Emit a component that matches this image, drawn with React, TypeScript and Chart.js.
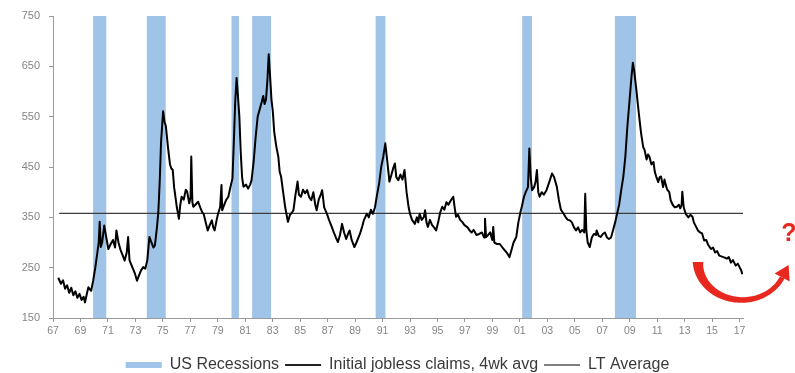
import React, { useEffect, useRef } from 'react';
import { Chart, registerables } from 'chart.js';

Chart.register(...registerables);

// ---- Data ----
const claimYears = [
  1967.38, 1967.58, 1967.73, 1967.88, 1968.03, 1968.18, 1968.33, 1968.48, 1968.63, 1968.78,
  1968.93, 1969.08, 1969.23, 1969.33, 1969.48, 1969.58, 1969.78, 1969.93, 1970.08, 1970.23,
  1970.33, 1970.40, 1970.48, 1970.58, 1970.73, 1970.88, 1971.03,
  1971.22, 1971.37, 1971.52, 1971.62, 1971.77, 1971.92, 1972.07, 1972.22, 1972.37, 1972.47,
  1972.57, 1972.67, 1972.82, 1972.97, 1973.12, 1973.27, 1973.42, 1973.57, 1973.72, 1973.87,
  1974.02, 1974.17, 1974.32, 1974.42, 1974.57, 1974.67, 1974.77, 1974.87, 1975.02, 1975.12,
  1975.22, 1975.37, 1975.52, 1975.62, 1975.72, 1975.82,
  1976.02, 1976.17, 1976.27, 1976.37, 1976.52, 1976.67, 1976.77, 1976.92, 1977.02, 1977.07,
  1977.15, 1977.22, 1977.37, 1977.57, 1977.72, 1977.87, 1977.97, 1978.12, 1978.27, 1978.42,
  1978.57, 1978.67, 1978.77, 1978.92, 1979.02, 1979.17, 1979.27, 1979.32, 1979.47, 1979.62,
  1979.77, 1979.92, 1980.07, 1980.17, 1980.27, 1980.37, 1980.47, 1980.57, 1980.67, 1980.77,
  1980.87,
  1981.06, 1981.21, 1981.36, 1981.46, 1981.61, 1981.76, 1981.91, 1982.06, 1982.21, 1982.31,
  1982.41, 1982.51, 1982.61, 1982.71, 1982.81, 1982.91, 1983.01, 1983.11, 1983.26, 1983.41,
  1983.51, 1983.61, 1983.76, 1983.91, 1984.11, 1984.26, 1984.41, 1984.51, 1984.66, 1984.81,
  1984.91, 1985.06, 1985.21, 1985.36, 1985.51, 1985.66, 1985.81, 1985.96,
  1986.10, 1986.20, 1986.35, 1986.50, 1986.60, 1986.75, 1986.95, 1987.10, 1987.30, 1987.45,
  1987.60, 1987.75, 1987.90, 1988.05, 1988.20, 1988.35, 1988.50, 1988.60, 1988.75, 1988.95,
  1989.10, 1989.25, 1989.35, 1989.50, 1989.65, 1989.85, 1990.00, 1990.15, 1990.30, 1990.45,
  1990.60, 1990.75, 1990.90, 1991.05, 1991.20,
  1991.35, 1991.50, 1991.65, 1991.80, 1991.90, 1992.00, 1992.15, 1992.30, 1992.45, 1992.60,
  1992.75, 1992.90, 1993.00, 1993.15, 1993.35, 1993.50, 1993.60, 1993.70, 1993.85, 1994.00,
  1994.10, 1994.20, 1994.30, 1994.45, 1994.60, 1994.75, 1994.90, 1995.05, 1995.20, 1995.35,
  1995.50, 1995.65, 1995.80, 1996.00, 1996.15, 1996.25, 1996.35, 1996.50, 1996.65, 1996.80,
  1996.95,
  1997.19, 1997.34, 1997.49, 1997.64, 1997.84, 1998.04, 1998.24, 1998.39, 1998.46, 1998.54,
  1998.69, 1998.84, 1998.99, 1999.06, 1999.14, 1999.34, 1999.54, 1999.74, 1999.89, 2000.04,
  2000.24, 2000.39, 2000.54, 2000.74, 2000.89, 2001.04, 2001.14, 2001.29, 2001.44, 2001.59,
  2001.69, 2001.79, 2001.89, 2002.04, 2002.14, 2002.24, 2002.34, 2002.44, 2002.59, 2002.74,
  2002.94,
  2003.14, 2003.34, 2003.49, 2003.69, 2003.84, 2003.99, 2004.19, 2004.34, 2004.49, 2004.64,
  2004.79, 2004.94, 2005.09, 2005.24, 2005.39, 2005.54, 2005.69, 2005.76, 2005.84, 2005.94,
  2006.09, 2006.24, 2006.39, 2006.54, 2006.59, 2006.74, 2006.89, 2007.04, 2007.19, 2007.34,
  2007.49, 2007.64, 2007.79, 2007.94,
  2008.08, 2008.23, 2008.38, 2008.53, 2008.68, 2008.83, 2008.98, 2009.13, 2009.23, 2009.33,
  2009.48, 2009.63, 2009.73, 2009.83, 2009.98, 2010.08, 2010.23, 2010.33, 2010.43, 2010.58,
  2010.73, 2010.83, 2010.93, 2011.08, 2011.18, 2011.28, 2011.43, 2011.53, 2011.63, 2011.73,
  2011.88, 2011.98, 2012.13, 2012.28, 2012.43, 2012.58, 2012.68, 2012.78, 2012.83, 2012.93,
  2013.08,
  2013.27, 2013.42, 2013.57, 2013.67, 2013.82, 2013.97, 2014.12, 2014.27, 2014.42, 2014.57,
  2014.72, 2014.92, 2015.07, 2015.22, 2015.37, 2015.52, 2015.72, 2015.92, 2016.07, 2016.22,
  2016.37, 2016.52, 2016.72, 2016.87, 2017.02, 2017.12, 2017.20,
];

const claimValues = [
  230, 218, 225, 208, 215, 200, 210, 195, 203, 190,
  198, 186, 192, 181, 200, 211, 204, 225, 250, 280,
  300, 341, 291, 300, 334, 310, 287,
  298, 305, 290, 324, 300, 285, 275, 264, 280, 311,
  265, 258, 248, 238, 224, 235, 245, 251, 248, 265,
  311, 300, 290, 294, 330, 360, 420, 500, 561, 540,
  531, 490, 455, 447, 444, 410,
  370, 347, 375, 391, 385, 405, 401, 378, 390, 471,
  380, 371, 375, 381, 370, 360, 357, 340, 324, 335,
  344, 330, 324, 345, 357, 370, 414, 364, 375, 385,
  391, 410, 427, 500, 580, 627, 590, 551, 480, 430,
  411,
  415, 407, 415, 424, 460, 510, 551, 565, 580, 591,
  575, 584, 620, 674, 630, 584, 560, 520, 491, 470,
  440, 431, 400, 370, 341, 355, 360, 364, 395, 421,
  395, 391, 405, 398, 404, 390, 384, 400,
  375, 364, 385, 395, 404, 370, 357, 345, 331, 320,
  310, 301, 315, 337, 320, 307, 318, 324, 305, 291,
  300, 310, 317, 330, 345, 357, 350, 365, 357, 370,
  395, 417, 450, 470, 497,
  460, 421, 435, 450, 457, 430, 424, 435, 425, 444,
  400, 370, 357, 345, 337, 350, 340, 357, 345, 350,
  364, 340, 331, 345, 335, 330, 324, 340, 360, 371,
  365, 380, 375, 385, 391, 370, 351, 355, 345, 341,
  335,
  330, 324, 320, 325, 315, 317, 320, 310, 347, 311,
  315, 320, 305, 331, 300, 297, 297, 290, 285, 280,
  271, 285, 300, 311, 340, 360, 371, 390, 401, 410,
  487, 430, 404, 410, 420, 444, 400, 391, 400, 395,
  404,
  420, 437, 430, 411, 385, 365, 357, 350, 345, 344,
  340, 330, 324, 330, 320, 325, 320, 397, 324, 300,
  291, 310, 317, 315, 324, 313, 311, 317, 320, 310,
  307, 310, 325, 340,
  357, 375, 404, 430, 470, 531, 580, 630, 657, 640,
  604, 565, 540, 517, 490, 484, 465, 475, 471, 455,
  460, 440, 431, 420, 430, 431, 410, 425, 414, 405,
  400, 384, 375, 370, 371, 375, 368, 375, 401, 370,
  357,
  350, 355, 351, 340, 332, 324, 320, 318, 304, 305,
  295, 287, 290, 280, 283, 274, 272, 270, 268, 271,
  260, 265, 254, 258, 250, 245, 237,
];

const recessionStarts = [1969.92, 1973.83, 1980.0, 1981.5, 1990.5, 2001.17, 2007.92];
const recessionEnds = [1970.88, 1975.21, 1980.54, 1982.88, 1991.21, 2001.88, 2009.46];

const ltAverageValue = 358;
const ltAverageYears = [1967.45, 2017.25];

const xTickYears = [
  1967, 1969, 1971, 1973, 1975, 1977, 1979, 1981, 1983, 1985, 1987, 1989, 1991,
  1993, 1995, 1997, 1999, 2001, 2003, 2005, 2007, 2009, 2011, 2013, 2015, 2017,
];
const xTickLabels = [
  '67', '69', '71', '73', '75', '77', '79', '81', '83', '85', '87', '89', '91',
  '93', '95', '97', '99', '01', '03', '05', '07', '09', '11', '13', '15', '17',
];
const yTickValues = [150, 250, 350, 450, 550, 650, 750];

const seriesLabels = ['US Recessions', 'Initial jobless claims, 4wk avg', 'LT Average'];

// ---- Styles ----
const FONT = '"Liberation Sans", Arial, Helvetica, sans-serif';
const RECESSION_COLOR = '#9fc4e7';
const CLAIMS_COLOR = '#000000';
const LT_COLOR = '#3c3c3c';
const AXIS_COLOR = '#9a9a9a';
const TICK_TEXT = '#858585';
const ARROW_RED = '#e8281e';

const arrowPlugin = {
  id: 'reboundArrow',
  afterDraw(chart: any) {
    const ctx = chart.ctx as CanvasRenderingContext2D;
    const ca = chart.chartArea;
    const cx = ca.right - 1;
    const cy = 262;
    const rx = 44;
    const ry = 38;
    const a0 = Math.PI;
    const a1 = 0.42;
    const steps = 60;
    const outer: [number, number][] = [];
    const inner: [number, number][] = [];
    for (let i = 0; i <= steps; i++) {
      const t = i / steps;
      const a = a0 + (a1 - a0) * t;
      const w = 5 + 5.5 * Math.pow(1 - t, 2.5);
      outer.push([cx + (rx + w / 2) * Math.cos(a), cy + (ry + w / 2) * Math.sin(a)]);
      inner.push([cx + (rx - w / 2) * Math.cos(a), cy + (ry - w / 2) * Math.sin(a)]);
    }
    ctx.save();
    ctx.fillStyle = ARROW_RED;
    ctx.beginPath();
    ctx.moveTo(outer[0][0], outer[0][1]);
    for (const p of outer) ctx.lineTo(p[0], p[1]);
    for (let i = inner.length - 1; i >= 0; i--) ctx.lineTo(inner[i][0], inner[i][1]);
    ctx.closePath();
    ctx.fill();
    // arrow head
    const px = cx + rx * Math.cos(a1);
    const py = cy + ry * Math.sin(a1);
    let dx = rx * Math.sin(a1);
    let dy = -ry * Math.cos(a1);
    const len = Math.hypot(dx, dy);
    dx /= len;
    dy /= len;
    const nx = -dy;
    const ny = dx;
    ctx.beginPath();
    ctx.moveTo(px + nx * 8.5, py + ny * 8.5);
    ctx.lineTo(px - nx * 8.5, py - ny * 8.5);
    ctx.lineTo(px + dx * 14, py + dy * 14);
    ctx.closePath();
    ctx.fill();
    // question mark
    ctx.font = `bold 25px ${FONT}`;
    ctx.textAlign = 'center';
    ctx.textBaseline = 'middle';
    ctx.fillText('?', cx + 47, 234);
    ctx.restore();
  },
};

export default function App() {
  const canvasRef = useRef<HTMLCanvasElement | null>(null);

  useEffect(() => {
    const canvas = canvasRef.current;
    if (!canvas) return;

    const yMin = yTickValues[0];
    const yMax = yTickValues[yTickValues.length - 1];

    const recessionPoints: { x: number; y: number }[] = [];
    recessionStarts.forEach((s, i) => {
      const e = recessionEnds[i];
      recessionPoints.push({ x: s, y: yMin }, { x: s, y: yMax }, { x: e, y: yMax }, { x: e, y: yMin });
    });

    const claimPoints = claimYears.map((x, i) => ({ x, y: claimValues[i] }));
    const ltPoints = ltAverageYears.map((x) => ({ x, y: ltAverageValue }));

    const chart = new Chart(canvas, {
      type: 'line',
      data: {
        datasets: [
          {
            label: seriesLabels[0],
            data: recessionPoints,
            borderColor: 'rgba(0,0,0,0)',
            backgroundColor: RECESSION_COLOR,
            borderWidth: 0,
            pointRadius: 0,
            fill: 'start',
            tension: 0,
            order: 3,
            yAxisID: 'y',
          },
          {
            label: seriesLabels[1],
            data: claimPoints,
            borderColor: CLAIMS_COLOR,
            backgroundColor: CLAIMS_COLOR,
            borderWidth: 2,
            pointRadius: 0,
            fill: false,
            tension: 0,
            borderJoinStyle: 'round',
            order: 1,
            yAxisID: 'y',
          },
          {
            label: seriesLabels[2],
            data: ltPoints,
            borderColor: LT_COLOR,
            backgroundColor: LT_COLOR,
            borderWidth: 1.3,
            pointRadius: 0,
            fill: false,
            tension: 0,
            order: 2,
            yAxisID: 'y',
          },
        ],
      },
      options: {
        responsive: false,
        animation: false,
        events: [],
        layout: { padding: { top: 16, right: 0, bottom: -10, left: 0 } },
        plugins: {
          tooltip: { enabled: false },
          legend: {
            position: 'bottom',
            labels: {
              usePointStyle: true,
              pointStyleWidth: 36,
              padding: 6,
              color: '#3a3a3a',
              font: { family: FONT, size: 16 },
              generateLabels: () => [
                {
                  text: seriesLabels[0],
                  fillStyle: RECESSION_COLOR,
                  strokeStyle: RECESSION_COLOR,
                  lineWidth: 6,
                  pointStyle: 'line',
                  hidden: false,
                  datasetIndex: 0,
                  fontColor: '#3a3a3a',
                },
                {
                  text: seriesLabels[1],
                  fillStyle: CLAIMS_COLOR,
                  strokeStyle: '#222222',
                  lineWidth: 2,
                  pointStyle: 'line',
                  hidden: false,
                  datasetIndex: 1,
                  fontColor: '#3a3a3a',
                },
                {
                  text: seriesLabels[2],
                  fillStyle: LT_COLOR,
                  strokeStyle: '#555555',
                  lineWidth: 1.5,
                  pointStyle: 'line',
                  hidden: false,
                  datasetIndex: 2,
                  fontColor: '#3a3a3a',
                },
              ],
            },
          },
        },
        scales: {
          x: {
            type: 'linear',
            min: xTickYears[0],
            max: 2017.25,
            afterBuildTicks: (scale: any) => {
              scale.ticks = xTickYears.map((v) => ({ value: v }));
            },
            afterFit: (scale: any) => {
              scale.height = 33;
            },
            ticks: {
              autoSkip: false,
              maxRotation: 0,
              padding: 3,
              color: TICK_TEXT,
              font: { family: FONT, size: 10.5 },
              callback: (_v: any, i: number) => xTickLabels[i],
            },
            grid: { drawOnChartArea: false, tickLength: 4, color: AXIS_COLOR },
            border: { color: AXIS_COLOR, width: 1 },
          },
          y: {
            min: yMin,
            max: yMax,
            afterBuildTicks: (scale: any) => {
              scale.ticks = yTickValues.map((v) => ({ value: v }));
            },
            afterFit: (scale: any) => {
              scale.width = 53;
            },
            ticks: {
              padding: 9,
              color: TICK_TEXT,
              font: { family: FONT, size: 11 },
              callback: (v: any) => String(v),
            },
            grid: { drawOnChartArea: false, tickLength: 4, color: AXIS_COLOR },
            border: { color: AXIS_COLOR, width: 1 },
          },
          yRight: {
            type: 'linear',
            position: 'right',
            min: 0,
            max: 1,
            afterFit: (scale: any) => {
              scale.width = 52;
            },
            ticks: { display: false },
            grid: { display: false },
            border: { display: false },
          },
        },
      },
      plugins: [arrowPlugin],
    });

    return () => {
      chart.destroy();
    };
  }, []);

  return (
    <div style={{ position: 'absolute', left: 0, top: 0, width: 795, height: 373, background: '#ffffff' }}>
      <canvas ref={canvasRef} width={795} height={373} style={{ display: 'block', width: 795, height: 373 }} />
    </div>
  );
}
